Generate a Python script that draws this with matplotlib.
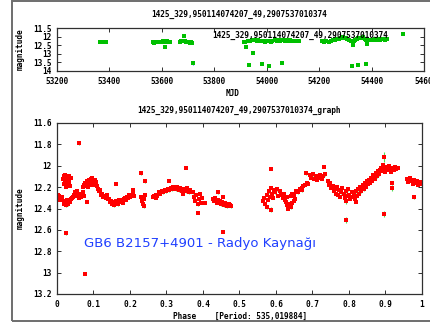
import matplotlib
matplotlib.use("Agg")
import matplotlib.pyplot as plt
from matplotlib.patches import Rectangle

# ---------------- data ----------------
title_top = "1425_329,950114074207_49,2907537010374"
title_bottom = "1425_329,950114074207_49,2907537010374_graph"
source_label = "GB6 B2157+4901 - Radyo Kaynağı"
xlabel_bottom = "Phase    [Period: 535,019884]"

top_xticks = [53200, 53400, 53600, 53800, 54000, 54200, 54400, 54600]
top_xticklabels = ["53200", "53400", "53600", "53800", "54000", "54200", "54400", "5460"]
top_yticks = [11.5, 12, 12.5, 13, 13.5, 14]
top_yticklabels = ["11.5", "12", "12.5", "13", "13.5", "14"]
bot_xticks = [0, 0.1, 0.2, 0.3, 0.4, 0.5, 0.6, 0.7, 0.8, 0.9, 1]
bot_xticklabels = ["0", "0.1", "0.2", "0.3", "0.4", "0.5", "0.6", "0.7", "0.8", "0.9", "1"]
bot_yticks = [11.6, 11.8, 12, 12.2, 12.4, 12.6, 12.8, 13, 13.2]
bot_yticklabels = ["11.6", "11.8", "12", "12.2", "12.4", "12.6", "12.8", "13", "13.2"]

# light curve (MJD)
mjd = [53364, 53370, 53376, 53382, 53388,
       53566, 53570, 53574, 53580, 53585,
       53600, 53606, 53611, 53616, 53620, 53626, 53630, 53612,
       53669, 53672, 53676, 53680, 53684, 53688, 53693, 53700, 53706, 53712, 53716, 53717,
       53912, 53918, 53922, 53930, 53936, 53942, 53946, 53950, 53956, 53962, 53968, 53975,
       53982, 53988, 53994, 54000, 54008, 54015, 54022, 54030, 54038, 54045, 54052, 54060,
       54068, 54075, 54082, 54090, 54098, 54106, 54114, 54122,
       53932, 53983, 54008, 54059,
       54212, 54220, 54228, 54236, 54244, 54252, 54260, 54268, 54276, 54284, 54290, 54296,
       54302, 54308, 54314, 54320, 54326, 54332, 54338, 54344, 54350, 54356, 54362, 54368,
       54374, 54380, 54386, 54392,
       54328, 54327, 54347, 54380, 54384,
       54405, 54412, 54418, 54426, 54434, 54442, 54450, 54458,
       54519]
mjd_mag = [12.30, 12.29, 12.31, 12.30, 12.31,
           12.31, 12.36, 12.33, 12.30, 12.34,
           12.30, 12.27, 12.29, 12.32, 12.28, 12.31, 12.30, 12.58,
           12.30, 12.26, 12.24, 12.28, 11.99, 12.25, 12.30, 12.32, 12.35, 12.33, 12.37, 13.55,
           12.32, 12.30, 12.60, 12.28, 12.24, 12.22, 12.95, 12.18, 12.20, 12.23, 12.19, 12.25,
           12.28, 12.26, 12.30, 12.27, 12.25, 12.29, 12.24, 12.21, 12.26, 12.20, 12.23, 12.19,
           12.24, 12.22, 12.27, 12.21, 12.25, 12.23, 12.26, 12.24,
           13.65, 13.60, 13.70, 13.55,
           12.28, 12.30, 12.27, 12.29, 12.25, 12.22, 12.20, 12.16, 12.12, 12.08, 12.05, 12.06,
           12.10, 12.15, 12.20, 12.25, 12.28, 12.24, 12.18, 12.12, 12.08, 12.06, 12.10, 12.05,
           12.14, 12.20, 12.18, 12.22,
           12.48, 13.70, 13.67, 13.62, 12.42,
           12.18, 12.15, 12.20, 12.12, 12.17, 12.14, 12.19, 12.16,
           11.85]
mjd_err = [0.02, 0.02, 0.02, 0.02, 0.02,
           0.02, 0.02, 0.02, 0.02, 0.02,
           0.02, 0.02, 0.02, 0.02, 0.02, 0.02, 0.02, 0.03,
           0.02, 0.02, 0.02, 0.02, 0.03, 0.02, 0.02, 0.02, 0.02, 0.02, 0.02, 0.08,
           0.03, 0.02, 0.03, 0.02, 0.02, 0.02, 0.03, 0.02, 0.02, 0.02, 0.02, 0.05,
           0.02, 0.02, 0.02, 0.02, 0.02, 0.02, 0.02, 0.02, 0.02, 0.02, 0.02, 0.02,
           0.02, 0.02, 0.02, 0.02, 0.02, 0.02, 0.02, 0.02,
           0.04, 0.05, 0.03, 0.04,
           0.02, 0.02, 0.02, 0.02, 0.02, 0.02, 0.02, 0.02, 0.02, 0.02, 0.02, 0.02,
           0.02, 0.02, 0.02, 0.02, 0.02, 0.02, 0.02, 0.02, 0.04, 0.02, 0.02, 0.02,
           0.04, 0.02, 0.02, 0.02,
           0.04, 0.06, 0.03, 0.03, 0.03,
           0.02, 0.03, 0.02, 0.02, 0.04, 0.02, 0.02, 0.02,
           0.02]

# phased light curve
phase = [0.002, 0.005, 0.008, 0.011, 0.013, 0.004, 0.009,
         0.016, 0.019, 0.021, 0.023, 0.025, 0.027, 0.029, 0.031, 0.033, 0.035, 0.037, 0.020, 0.026, 0.032,
         0.015, 0.018, 0.020, 0.022, 0.024, 0.026, 0.028, 0.030, 0.033, 0.036, 0.039, 0.041,
         0.024,
         0.043, 0.046, 0.049, 0.052, 0.055, 0.058, 0.061, 0.063, 0.066, 0.069, 0.072, 0.075,
         0.060, 0.077, 0.083,
         0.070, 0.073, 0.076, 0.079, 0.081, 0.084, 0.087, 0.089, 0.092, 0.094, 0.097, 0.099, 0.101, 0.103, 0.105, 0.107, 0.109, 0.086, 0.095,
         0.112, 0.115, 0.118, 0.121, 0.124, 0.127, 0.130, 0.133, 0.136, 0.139,
         0.162,
         0.142, 0.145, 0.148, 0.151, 0.154, 0.157, 0.160, 0.163, 0.166, 0.169, 0.171,
         0.174, 0.177, 0.180, 0.183, 0.186, 0.189, 0.192, 0.195, 0.198, 0.201, 0.204, 0.207, 0.208, 0.211, 0.180, 0.196,
         0.229, 0.240,
         0.231, 0.233, 0.235, 0.237, 0.239, 0.241,
         0.263, 0.267, 0.271, 0.275, 0.279, 0.283, 0.287, 0.291, 0.295, 0.299, 0.303, 0.307, 0.311, 0.315, 0.318, 0.270,
         0.306,
         0.326, 0.330, 0.334, 0.338, 0.342, 0.345,
         0.353,
         0.349, 0.353, 0.357, 0.361, 0.364,
         0.373, 0.376, 0.379, 0.382, 0.385, 0.388, 0.391, 0.394, 0.396,
         0.387, 0.405,
         0.428, 0.431, 0.434, 0.437, 0.440, 0.443, 0.446, 0.449, 0.452, 0.455, 0.458, 0.461, 0.464, 0.467, 0.470, 0.473, 0.476, 0.441, 0.455,
         0.456,
         0.565, 0.568, 0.571, 0.574, 0.577, 0.580, 0.583, 0.586, 0.589, 0.592, 0.595, 0.575, 0.585,
         0.585,
         0.598, 0.602, 0.606, 0.610, 0.614, 0.618, 0.622, 0.626, 0.629,
         0.627, 0.631, 0.634, 0.637, 0.641, 0.644, 0.648, 0.651,
         0.640, 0.645, 0.650, 0.655, 0.660, 0.665, 0.670, 0.675, 0.680, 0.684, 0.688, 0.672,
         0.682,
         0.693, 0.697, 0.701, 0.705, 0.709, 0.713, 0.717, 0.721, 0.725, 0.729, 0.733,
         0.731,
         0.743, 0.746, 0.749, 0.752, 0.755, 0.758, 0.761, 0.764, 0.767, 0.770, 0.773, 0.776, 0.779, 0.782,
         0.786, 0.789, 0.792, 0.795, 0.792, 0.798, 0.801, 0.804, 0.807, 0.810,
         0.792,
         0.813, 0.816, 0.819, 0.822, 0.825, 0.828, 0.831, 0.834, 0.837, 0.840, 0.843, 0.846, 0.849, 0.820,
         0.852, 0.855, 0.858, 0.861, 0.864, 0.867, 0.870, 0.873, 0.876, 0.879, 0.882, 0.885,
         0.888, 0.891, 0.894, 0.897, 0.900, 0.903, 0.906, 0.909, 0.912, 0.915, 0.918, 0.922, 0.926, 0.930, 0.935,
         0.896, 0.896,
         0.918, 0.917,
         0.958, 0.962, 0.966, 0.970, 0.974, 0.978, 0.982, 0.986, 0.990, 0.994, 0.998,
         0.978]
phase_mag = [12.29, 12.28, 12.30, 12.31, 12.29, 12.27, 12.32,
             12.12, 12.10, 12.14, 12.09, 12.16, 12.12, 12.18, 12.13, 12.15, 12.19, 12.11, 12.17, 12.20, 12.10,
             12.31, 12.34, 12.36, 12.33, 12.37, 12.35, 12.32, 12.36, 12.33, 12.34, 12.31, 12.30,
             12.63,
             12.29, 12.27, 12.25, 12.28, 12.24, 12.26, 12.30, 12.27, 12.29, 12.26, 12.25, 12.28,
             11.79, 13.01, 12.34,
             12.20, 12.18, 12.16, 12.19, 12.14, 12.17, 12.13, 12.16, 12.12, 12.15, 12.11, 12.14, 12.17, 12.13, 12.18, 12.15, 12.19, 12.20, 12.18,
             12.22, 12.24, 12.23, 12.27, 12.26, 12.29, 12.28, 12.30, 12.27, 12.31,
             12.17,
             12.31, 12.34, 12.33, 12.36, 12.34, 12.37, 12.35, 12.33, 12.36, 12.34, 12.32,
             12.34, 12.32, 12.33, 12.31, 12.30, 12.32, 12.29, 12.30, 12.28, 12.29, 12.27, 12.26, 12.23, 12.28, 12.35, 12.27,
             12.07, 12.14,
             12.29, 12.33, 12.36, 12.31, 12.38, 12.27,
             12.29, 12.28, 12.27, 12.28, 12.25, 12.26, 12.24, 12.25, 12.23, 12.24, 12.22, 12.23, 12.21, 12.22, 12.20, 12.30,
             12.14,
             12.22, 12.20, 12.23, 12.21, 12.24, 12.26,
             12.02,
             12.22, 12.24, 12.21, 12.25, 12.23,
             12.25, 12.29, 12.33, 12.27, 12.36, 12.31, 12.26, 12.35, 12.30,
             12.44, 12.35,
             12.31, 12.33, 12.30, 12.35, 12.32, 12.34, 12.33, 12.36, 12.34, 12.35, 12.37, 12.35, 12.36, 12.38, 12.36, 12.37, 12.38, 12.25, 12.29,
             12.62,
             12.33, 12.30, 12.36, 12.27, 12.32, 12.24, 12.29, 12.21, 12.26, 12.30, 12.23, 12.39, 12.41,
             12.03,
             12.25, 12.22, 12.28, 12.24, 12.27, 12.30, 12.26, 12.32, 12.29,
             12.34, 12.37, 12.40, 12.36, 12.39, 12.35, 12.33, 12.31,
             12.28, 12.26, 12.27, 12.24, 12.25, 12.22, 12.21, 12.19, 12.18, 12.16, 12.17, 12.23,
             12.07,
             12.09, 12.11, 12.08, 12.12, 12.10, 12.13, 12.11, 12.09, 12.12, 12.10, 12.08,
             12.01,
             12.14, 12.18, 12.16, 12.21, 12.19, 12.24, 12.22, 12.26, 12.20, 12.27, 12.23, 12.29, 12.25, 12.21,
             12.26, 12.30, 12.24, 12.28, 12.33, 12.22, 12.27, 12.31, 12.25, 12.29,
             12.51,
             12.27, 12.31, 12.24, 12.28, 12.22, 12.26, 12.20, 12.24, 12.18, 12.22, 12.16, 12.20, 12.14, 12.34,
             12.17, 12.13, 12.16, 12.11, 12.14, 12.09, 12.12, 12.07, 12.10, 12.05, 12.08, 12.04,
             12.02, 12.05, 11.99, 12.03, 12.06, 12.01, 12.04, 12.00, 12.03, 12.06, 12.02, 12.04, 12.01, 12.03, 12.02,
             11.92, 12.45,
             12.16, 12.21,
             12.12, 12.15, 12.11, 12.14, 12.17, 12.13, 12.16, 12.14, 12.18, 12.15, 12.17,
             12.29]
phase_err = [0.012] * len(phase)
# individual larger error bars
phase_err_overrides = [(0.024, 12.63, 0.015), (0.060, 11.79, 0.015), (0.077, 13.01, 0.015),
                       (0.240, 12.14, 0.02), (0.229, 12.07, 0.012), (0.792, 12.33, 0.025),
                       (0.792, 12.51, 0.03), (0.896, 11.92, 0.045), (0.896, 12.45, 0.028),
                       (0.918, 12.16, 0.02), (0.917, 12.21, 0.025), (0.978, 12.29, 0.02),
                       (0.585, 12.41, 0.02), (0.682, 12.07, 0.015), (0.353, 12.02, 0.012)]
for (p, m, e) in phase_err_overrides:
    for i in range(len(phase)):
        if phase[i] == p and phase_mag[i] == m:
            phase_err[i] = e

# ---------------- figure ----------------
W, H = 431, 327
fig = plt.figure(figsize=(W / 100, H / 100), dpi=100)
fig.patch.set_facecolor("white")

mono = dict(family="DejaVu Sans Mono", weight="bold", size=5.6)

# outer frame
fig.add_artist(Rectangle((12 / W, 1 - 321 / H), 1.0, 320 / H, transform=fig.transFigure,
                         fill=False, edgecolor="#6e6e6e", linewidth=1.4))


def style(ax):
    for s in ax.spines.values():
        s.set_color("#303030")
        s.set_linewidth(0.9)
    ax.tick_params(direction="in", length=3, width=0.7, top=True, right=True,
                   colors="#303030", pad=4)
    for lab in ax.get_xticklabels() + ax.get_yticklabels():
        lab.set_fontfamily("DejaVu Sans Mono")
        lab.set_fontweight("bold")
        lab.set_fontsize(5.6)
        lab.set_color("black")


# top axes
ax1 = fig.add_axes([57 / W, 1 - 71 / H, 367 / W, 43 / H])
ax1.errorbar(mjd, mjd_mag, yerr=mjd_err, fmt="s", color="#00c000", markersize=2.2,
             ecolor="#3070ff", elinewidth=0.8, capsize=0, markeredgewidth=0)
ax1.set_xlim(53200, 54600)
ax1.set_ylim(14, 11.5)
ax1.set_xticks(top_xticks)
ax1.set_xticklabels(top_xticklabels)
ax1.set_yticks(top_yticks)
ax1.set_yticklabels(top_yticklabels)
style(ax1)
ax1.text(0.902, 0.835, title_top, transform=ax1.transAxes, ha="right", va="center", **mono)

fig.text(239 / W, 1 - 14 / H, title_top, ha="center", va="center", **mono)
fig.text(20 / W, 1 - 49 / H, "magnitude", rotation=90, ha="center", va="center", **mono)
fig.text(233 / W, 1 - 93 / H, "MJD", ha="center", va="center", **mono)

# bottom axes
ax2 = fig.add_axes([57 / W, 1 - 294 / H, 365 / W, 171 / H])
ax2.errorbar(phase, phase_mag, yerr=phase_err, fmt="s", color="#ff0000", markersize=2.6,
             ecolor="#55dd55", elinewidth=0.8, capsize=1.5, capthick=0.8, markeredgewidth=0)
ax2.set_xlim(0, 1)
ax2.set_ylim(13.2, 11.6)
ax2.set_xticks(bot_xticks)
ax2.set_xticklabels(bot_xticklabels)
ax2.set_yticks(bot_yticks)
ax2.set_yticklabels(bot_yticklabels)
style(ax2)
ax2.text(84 / W, 1 - 243 / H, source_label, transform=fig.transFigure, ha="left", va="center",
         color="#2040ff", fontsize=9.5, family="DejaVu Sans")

fig.text(239 / W, 1 - 110 / H, title_bottom, ha="center", va="center", **mono)
fig.text(20 / W, 1 - 208 / H, "magnitude", rotation=90, ha="center", va="center", **mono)
fig.text(240 / W, 1 - 316 / H, xlabel_bottom, ha="center", va="center", **mono)

fig.savefig("out.png", dpi=100)
